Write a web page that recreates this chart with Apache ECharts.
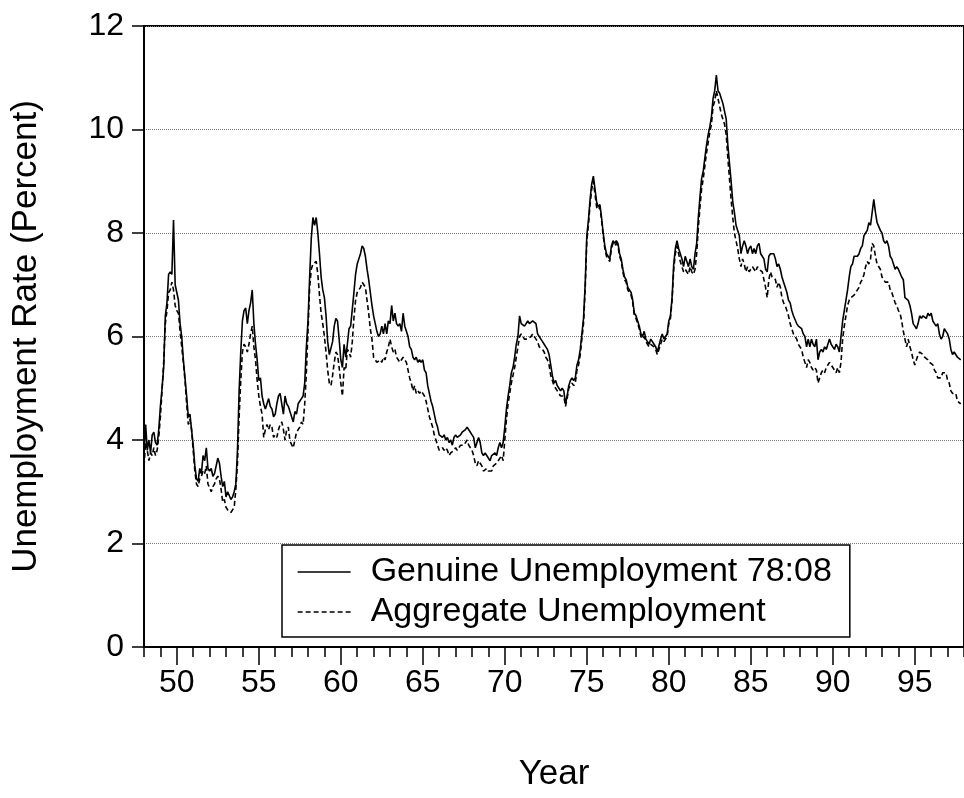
<!DOCTYPE html>
<html>
<head>
<meta charset="utf-8">
<script src="https://cdn.jsdelivr.net/npm/echarts@6/dist/echarts.min.js"></script>
<style>
html,body{margin:0;padding:0;background:#fff;}
#chart{width:964px;height:798px;}
</style>
</head>
<body>
<div id="chart"></div>
<script>
// Monthly-ish samples (every 0.1 year).
// Each array starts at the given year; successive values are 0.1 year apart.
const genuine1940s = [ // from 1948.0
  3.7,4.3,3.8,4.0,3.75,4.1,4.15,3.95,3.9,4.2,
  4.65,5.0,5.4,6.4,6.65,7.2,7.25,7.2,8.25,7.0
];
const aggregate1940s = [
  3.5,3.95,3.8,3.6,3.75,3.7,3.85,3.7,3.8,4.05,
  4.45,4.95,5.5,6.25,6.5,6.85,6.9,7.05,6.9,6.6
];
const genuine1950s = [ // from 1950.0
  7.0,6.7,6.25,6.0,5.55,5.2,4.85,4.45,4.5,4.5,
  3.9,3.5,3.25,3.2,3.45,3.35,3.7,3.6,3.85,3.45,
  3.4,3.45,3.3,3.35,3.35,3.65,3.55,3.3,3.1,3.2,
  2.9,3.0,3.0,2.85,2.9,3.0,3.15,3.8,4.95,5.7,
  6.3,6.5,6.55,6.25,6.5,6.65,6.9,6.25,5.85,5.55,
  5.15,5.2,4.85,4.7,4.6,4.7,4.8,4.65,4.6,4.45,
  4.5,4.7,4.85,4.9,4.7,4.5,4.85,4.7,4.65,4.55,
  4.45,4.35,4.55,4.5,4.7,4.7,4.8,4.85,5.1,5.8,
  6.3,7.15,7.9,8.3,8.15,8.3,8.0,7.6,7.15,6.9,
  6.75,6.4,5.9,5.65,5.65,5.9,6.2,6.35,6.3,5.95
];
const aggregate1950s = [
  6.5,6.45,6.1,5.8,5.5,5.15,4.7,4.3,4.4,4.2,
  3.8,3.4,3.15,3.1,3.25,3.3,3.4,3.35,3.5,3.15,
  3.15,3.0,3.1,3.15,3.25,3.3,3.25,3.05,2.8,2.85,
  2.7,2.65,2.65,2.6,2.65,2.7,3.05,3.55,4.45,5.15,
  5.7,5.85,5.8,5.7,5.85,6.05,6.2,5.8,5.55,5.15,
  4.85,4.65,4.5,4.05,4.2,4.3,4.2,4.3,4.25,4.05,
  4.1,4.05,4.2,4.3,4.35,4.2,4.0,4.2,4.25,3.98,
  4.0,3.85,4.0,4.15,4.2,4.25,4.35,4.3,4.7,5.3,
  6.1,6.95,7.3,7.4,7.4,7.45,7.2,6.8,6.45,6.25,
  6.0,5.7,5.35,5.1,5.05,5.25,5.5,5.7,5.65,5.4
];
const genuine1960s = [ // from 1960.0
  5.55,5.4,5.85,5.6,5.85,6.15,6.2,6.2,6.85,7.2,
  7.4,7.5,7.6,7.75,7.7,7.55,7.3,7.1,6.85,6.6,
  6.4,6.25,6.1,6.0,6.05,6.2,6.05,6.25,6.05,6.3,
  6.25,6.6,6.3,6.45,6.25,6.2,6.25,6.1,6.45,6.2,
  6.1,6.0,5.8,5.75,5.6,5.55,5.6,5.5,5.55,5.5,
  5.55,5.35,5.3,5.05,4.9,4.75,4.65,4.5,4.35,4.25,
  4.1,4.1,4.05,4.1,4.0,4.05,3.95,4.0,3.9,4.05,
  4.1,4.05,4.05,4.1,4.15,4.15,4.2,4.25,4.25,4.15,
  4.1,4.05,3.85,3.85,4.05,3.95,3.75,3.7,3.75,3.7,
  3.7,3.6,3.7,3.7,3.75,3.7,3.85,3.95,3.85,3.95
];
const aggregate1960s = [
  5.1,4.85,5.4,5.35,5.75,5.7,5.6,5.9,6.35,6.7,
  6.85,6.9,6.95,7.05,7.05,6.95,6.7,6.45,6.15,5.95,
  5.6,5.55,5.5,5.5,5.55,5.5,5.6,5.55,5.7,5.8,
  5.95,5.8,5.7,5.75,5.6,5.55,5.5,5.55,5.6,5.55,
  5.5,5.35,5.2,5.1,4.95,5.05,4.9,4.95,4.9,4.95,
  4.9,4.85,4.75,4.6,4.45,4.35,4.25,4.1,4.0,3.9,
  3.8,3.8,3.85,3.8,3.85,3.8,3.7,3.75,3.75,3.8,
  3.85,3.8,3.85,3.9,3.9,3.9,3.95,4.0,3.9,3.85,
  3.8,3.7,3.55,3.5,3.6,3.55,3.5,3.4,3.4,3.45,
  3.4,3.4,3.4,3.5,3.5,3.55,3.6,3.6,3.7,3.6
];
const genuine1970s = [ // from 1970.0
  4.25,4.6,4.85,5.05,5.3,5.4,5.6,5.85,6.0,6.4,
  6.25,6.25,6.2,6.25,6.3,6.25,6.25,6.3,6.3,6.25,
  6.05,6.0,5.95,5.9,5.85,5.8,5.75,5.65,5.45,5.25,
  5.1,5.15,5.05,5.0,4.95,5.0,4.95,4.7,4.85,5.05,
  5.15,5.2,5.15,5.2,5.45,5.55,5.75,6.05,6.35,7.0,
  7.95,8.25,8.65,8.95,9.1,8.85,8.6,8.5,8.55,8.3,
  8.0,7.75,7.6,7.55,7.5,7.75,7.85,7.8,7.85,7.8,
  7.6,7.5,7.3,7.15,7.1,6.95,6.9,6.85,6.7,6.45,
  6.4,6.3,6.2,6.05,6.0,6.1,5.95,5.95,5.85,5.95,
  5.9,5.85,5.8,5.7,5.7,5.95,6.05,5.95,6.0,6.05
];
const aggregate1970s = [
  4.0,4.4,4.7,4.9,5.1,5.25,5.4,5.6,5.8,6.0,
  6.05,6.0,5.95,5.95,5.95,5.95,6.0,6.05,6.0,5.95,
  5.9,5.8,5.8,5.75,5.7,5.6,5.55,5.45,5.25,5.15,
  5.05,5.0,4.95,4.9,4.85,4.85,4.85,4.65,4.8,5.0,
  5.05,5.1,5.05,5.1,5.35,5.45,5.65,5.95,6.25,6.9,
  7.85,8.15,8.55,8.85,9.0,8.75,8.5,8.45,8.5,8.25,
  7.95,7.7,7.55,7.5,7.45,7.7,7.8,7.75,7.8,7.75,
  7.55,7.45,7.25,7.1,7.05,6.9,6.85,6.8,6.65,6.4,
  6.35,6.25,6.15,6.0,5.95,6.0,5.9,5.85,5.8,5.85,
  5.85,5.8,5.75,5.65,5.65,5.85,5.95,5.9,5.95,6.0
];
const genuine1980s = [ // from 1980.0
  6.3,6.4,6.75,7.4,7.7,7.85,7.7,7.6,7.5,7.35,
  7.55,7.45,7.35,7.5,7.35,7.3,7.6,7.8,8.3,8.7,
  9.05,9.2,9.45,9.7,9.9,10.05,10.25,10.6,10.75,11.05,
  10.75,10.7,10.6,10.5,10.35,10.2,9.7,9.35,9.0,8.6,
  8.4,8.15,8.05,7.95,7.6,7.75,7.85,7.75,7.6,7.7,
  7.75,7.6,7.7,7.6,7.75,7.8,7.6,7.55,7.5,7.3,
  7.25,7.55,7.6,7.6,7.6,7.5,7.35,7.4,7.3,7.15,
  7.05,6.95,6.85,6.7,6.65,6.5,6.4,6.4,6.25,6.2,
  6.2,6.15,6.05,6.0,5.8,5.95,5.8,5.95,5.85,5.8,
  5.95,5.55,5.7,5.75,5.7,5.8,5.75,5.85,5.95,5.85
];
const aggregate1980s = [
  6.25,6.35,6.7,7.3,7.6,7.75,7.6,7.45,7.35,7.25,
  7.3,7.3,7.2,7.35,7.25,7.2,7.3,7.6,8.1,8.5,
  8.85,9.05,9.3,9.55,9.75,9.95,10.1,10.45,10.55,10.75,
  10.6,10.45,10.3,10.2,10.1,9.9,9.45,9.05,8.65,8.3,
  8.0,7.85,7.7,7.5,7.35,7.5,7.4,7.25,7.35,7.25,
  7.3,7.35,7.3,7.25,7.35,7.3,7.3,7.25,7.1,6.95,
  6.75,7.1,7.25,7.15,7.15,7.1,6.95,7.05,6.95,6.75,
  6.65,6.6,6.5,6.4,6.25,6.15,6.05,6.0,5.95,5.85,
  5.8,5.75,5.6,5.5,5.4,5.55,5.5,5.4,5.35,5.4,
  5.35,5.1,5.2,5.3,5.35,5.3,5.4,5.4,5.5,5.45
];
const genuine1990s = [ // from 1990.0
  5.8,5.75,5.85,5.8,5.7,6.0,6.3,6.5,6.7,6.9,
  7.15,7.35,7.4,7.55,7.55,7.55,7.6,7.7,7.75,7.95,
  8.0,8.05,8.2,8.15,8.4,8.65,8.4,8.2,8.2,8.05,
  8.0,7.85,7.8,7.85,7.75,7.55,7.5,7.4,7.3,7.35,
  7.3,7.3,7.15,7.1,6.75,6.75,6.7,6.6,6.45,6.25,
  6.2,6.15,6.25,6.4,6.35,6.4,6.4,6.35,6.45,6.4,
  6.45,6.3,6.25,6.2,6.25,6.05,5.95,6.0,6.15,6.1,
  6.05,5.95,5.75,5.65,5.7,5.7,5.6,5.6,5.55
];
const aggregate1990s = [
  5.4,5.35,5.3,5.4,5.3,5.5,5.95,6.2,6.4,6.6,
  6.7,6.75,6.75,6.8,6.85,6.9,6.95,7.05,7.1,7.2,
  7.35,7.45,7.4,7.5,7.8,7.75,7.55,7.4,7.4,7.3,
  7.15,7.1,7.05,7.05,7.05,6.9,6.85,6.75,6.65,6.6,
  6.5,6.45,6.3,6.1,5.95,5.8,5.95,5.8,5.7,5.55,
  5.45,5.55,5.65,5.7,5.7,5.65,5.6,5.6,5.55,5.5,
  5.5,5.45,5.35,5.3,5.2,5.2,5.2,5.3,5.3,5.3,
  5.15,5.1,4.95,4.9,4.9,4.9,4.75,4.75,4.7
];
const decadeStarts = [1948, 1950, 1960, 1970, 1980, 1990];
const genuineParts = [genuine1940s, genuine1950s, genuine1960s, genuine1970s, genuine1980s, genuine1990s];
const aggregateParts = [aggregate1940s, aggregate1950s, aggregate1960s, aggregate1970s, aggregate1980s, aggregate1990s];

const yTicks = [0, 2, 4, 6, 8, 10, 12];
const yearCategories = [];
for (let y = 1948; y <= 1998; y++) yearCategories.push(String(y));

const seriesNames = ['Genuine Unemployment 78:08', 'Aggregate Unemployment'];

function toPairs(parts) {
  const out = [];
  parts.forEach((arr, k) => {
    arr.forEach((v, i) => {
      out.push([Math.round((decadeStarts[k] * 10 + i)) / 10, v]);
    });
  });
  return out;
}

const FONT = 'Liberation Sans, Arial, sans-serif';
const chart = echarts.init(document.getElementById('chart'), null, {renderer: 'canvas'});
chart.setOption({
  animation: false,
  backgroundColor: '#fff',
  grid: {
    left: 144, right: -2, top: 26, bottom: 151,
    show: true, borderColor: '#000', borderWidth: 2, backgroundColor: 'transparent'
  },
  legend: {
    orient: 'vertical',
    left: 282, top: 545,
    backgroundColor: '#fff',
    borderColor: '#000', borderWidth: 1.5, borderRadius: 0,
    padding: [10, 18, 8, 15],
    itemWidth: 53, itemHeight: 20, itemGap: 6,
    itemStyle: {opacity: 0, borderWidth: 0},
    lineStyle: {width: 1.3},
    textStyle: {fontFamily: FONT, fontSize: 34, color: '#000', lineHeight: 34, padding: [0, 0, 0, 15]},
    data: seriesNames
  },
  xAxis: [
    {
      type: 'value', min: 1948, max: 1998, interval: 1, position: 'bottom',
      axisLine: {onZero: false, lineStyle: {color: '#000', width: 2}},
      axisTick: {show: true, inside: false, length: 10, lineStyle: {color: '#000', width: 1.5}},
      axisLabel: {show: false},
      splitLine: {show: false}
    },
    {
      type: 'category', data: yearCategories, boundaryGap: false, position: 'bottom',
      name: 'Year', nameLocation: 'middle', nameGap: 110,
      nameTextStyle: {fontFamily: FONT, fontSize: 35, color: '#000'},
      axisLine: {show: false, onZero: false},
      axisTick: {show: true, inside: false, length: 18, interval: (i, v) => (+v) % 5 === 0,
                 lineStyle: {color: '#000', width: 1.5}},
      axisLabel: {show: true, interval: (i, v) => (+v) % 5 === 0, formatter: v => v.slice(2),
                  fontFamily: FONT, fontSize: 32, color: '#000', margin: 20},
      splitLine: {show: false}
    }
  ],
  yAxis: {
    type: 'value', min: yTicks[0], max: yTicks[yTicks.length - 1], interval: 2,
    name: 'Unemployment Rate (Percent)', nameLocation: 'middle', nameGap: 100, nameRotate: 90,
    nameTextStyle: {fontFamily: FONT, fontSize: 35, color: '#000'},
    axisLine: {show: true, lineStyle: {color: '#000', width: 2}},
    axisTick: {show: true, inside: false, length: 12, lineStyle: {color: '#000', width: 1.5}},
    axisLabel: {fontFamily: FONT, fontSize: 32, color: '#000', margin: 20},
    splitLine: {show: true, lineStyle: {color: '#777', width: 1, type: [1, 1]}}
  },
  series: [
    {
      name: seriesNames[0], type: 'line', xAxisIndex: 0, yAxisIndex: 0,
      symbol: 'none', showSymbol: false,
      lineStyle: {color: '#000', width: 1.6, type: 'solid'},
      itemStyle: {color: '#000', opacity: 0},
      data: toPairs(genuineParts), z: 3
    },
    {
      name: seriesNames[1], type: 'line', xAxisIndex: 0, yAxisIndex: 0,
      symbol: 'none', showSymbol: false,
      lineStyle: {color: '#000', width: 1.6, type: [5, 3]},
      itemStyle: {color: '#000', opacity: 0},
      data: toPairs(aggregateParts), z: 2
    }
  ]
});
</script>
</body>
</html>
